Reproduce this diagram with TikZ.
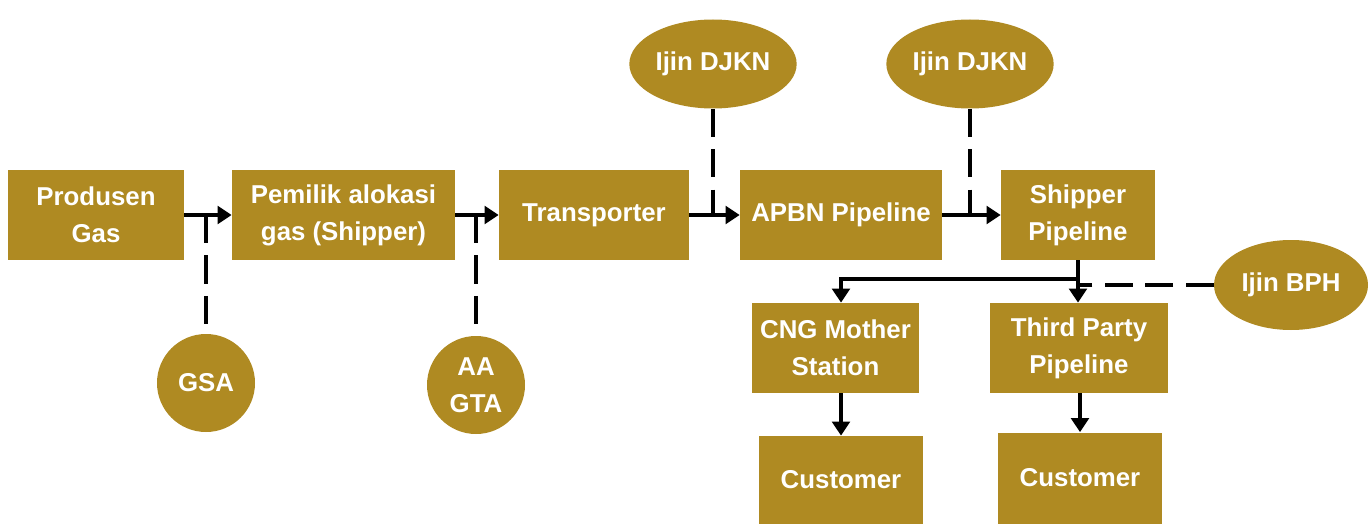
\documentclass[tikz,border=0pt]{standalone}
\usepackage{fontspec}
\setmainfont{Liberation Sans}
\usetikzlibrary{arrows.meta,shapes.geometric}
\definecolor{gold}{RGB}{175,138,34}
\begin{document}
\begin{tikzpicture}[
	box/.style={fill=gold, text=white, font=\bfseries\fontsize{14.7}{21}\selectfont, align=center, minimum height=1.8cm, inner sep=2pt},
	permit/.style={ellipse, fill=gold, text=white, font=\bfseries\fontsize{14.7}{21}\selectfont, align=center, minimum width=3.1cm, minimum height=1.78cm, inner sep=1pt},
	contract/.style={circle, fill=gold, text=white, font=\bfseries\fontsize{14.7}{21}\selectfont, align=center, minimum size=1.96cm, inner sep=1pt},
	edge/.style={-{Triangle[length=8pt,width=10pt]}, line width=2.2pt},
	link/.style={line width=2.2pt, dash pattern=on 16pt off 7pt}
]
\useasboundingbox (0,0) rectangle (27.42,-10.48);

% Main chain
\node[box, minimum width=3.52cm] (produsen) at (1.92,-4.30) {Produsen\\Gas};
\node[box, minimum width=4.46cm] (pemilik) at (6.87,-4.30) {Pemilik alokasi\\gas (Shipper)};
\node[box, minimum width=3.80cm] (transporter) at (11.88,-4.30) {Transporter};
\node[box, minimum width=4.04cm] (apbn) at (16.82,-4.30) {APBN Pipeline};
\node[box, minimum width=3.08cm] (shipper) at (21.56,-4.30) {Shipper\\Pipeline};

% Lower branch
\node[box, minimum width=3.34cm] (cng) at (16.71,-6.96) {CNG Mother\\Station};
\node[box, minimum width=3.56cm] (third) at (21.58,-6.96) {Third Party\\Pipeline};
\node[box, minimum width=3.28cm, minimum height=1.76cm] (cust1) at (16.82,-9.60) {Customer};
\node[box, minimum width=3.28cm, minimum height=1.82cm] (cust2) at (21.60,-9.56) {Customer};

% Permits and contracts
\node[permit] (djkn1) at (14.26,-1.28) {Ijin DJKN};
\node[permit] (djkn2) at (19.40,-1.28) {Ijin DJKN};
\node[permit, minimum width=3.08cm, minimum height=1.80cm] (bph) at (25.82,-5.70) {Ijin BPH};
\node[contract] (gsa) at (4.12,-7.66) {GSA};
\node[contract] (aagta) at (9.52,-7.70) {AA\\GTA};

% Edges
\draw[edge] (produsen) -- (pemilik);
\draw[edge] (pemilik) -- (transporter);
\draw[edge] (transporter) -- (apbn);
\draw[edge] (apbn) -- (shipper);
\draw[edge] (shipper.south) -- (shipper.south |- third.north);
\coordinate (split) at (21.56,-5.58);
\draw[edge] (split) -| (cng.north -| cust1.north);
\draw[edge] (cng.south -| cust1.north) -- (cust1.north);
\draw[edge] (third.south -| cust2.north) -- (cust2.north);

% Dashed links
\draw[link] (produsen.east -| gsa.north) -- (gsa.north);
\draw[link] (pemilik.east -| aagta.north) -- (aagta.north);
\draw[link] (djkn1.south) -- (djkn1.south |- transporter.east);
\draw[link] (djkn2.south) -- (djkn2.south |- apbn.east);
\draw[link] (bph.west) -- (shipper.south |- bph.west);

\end{tikzpicture}
\end{document}
